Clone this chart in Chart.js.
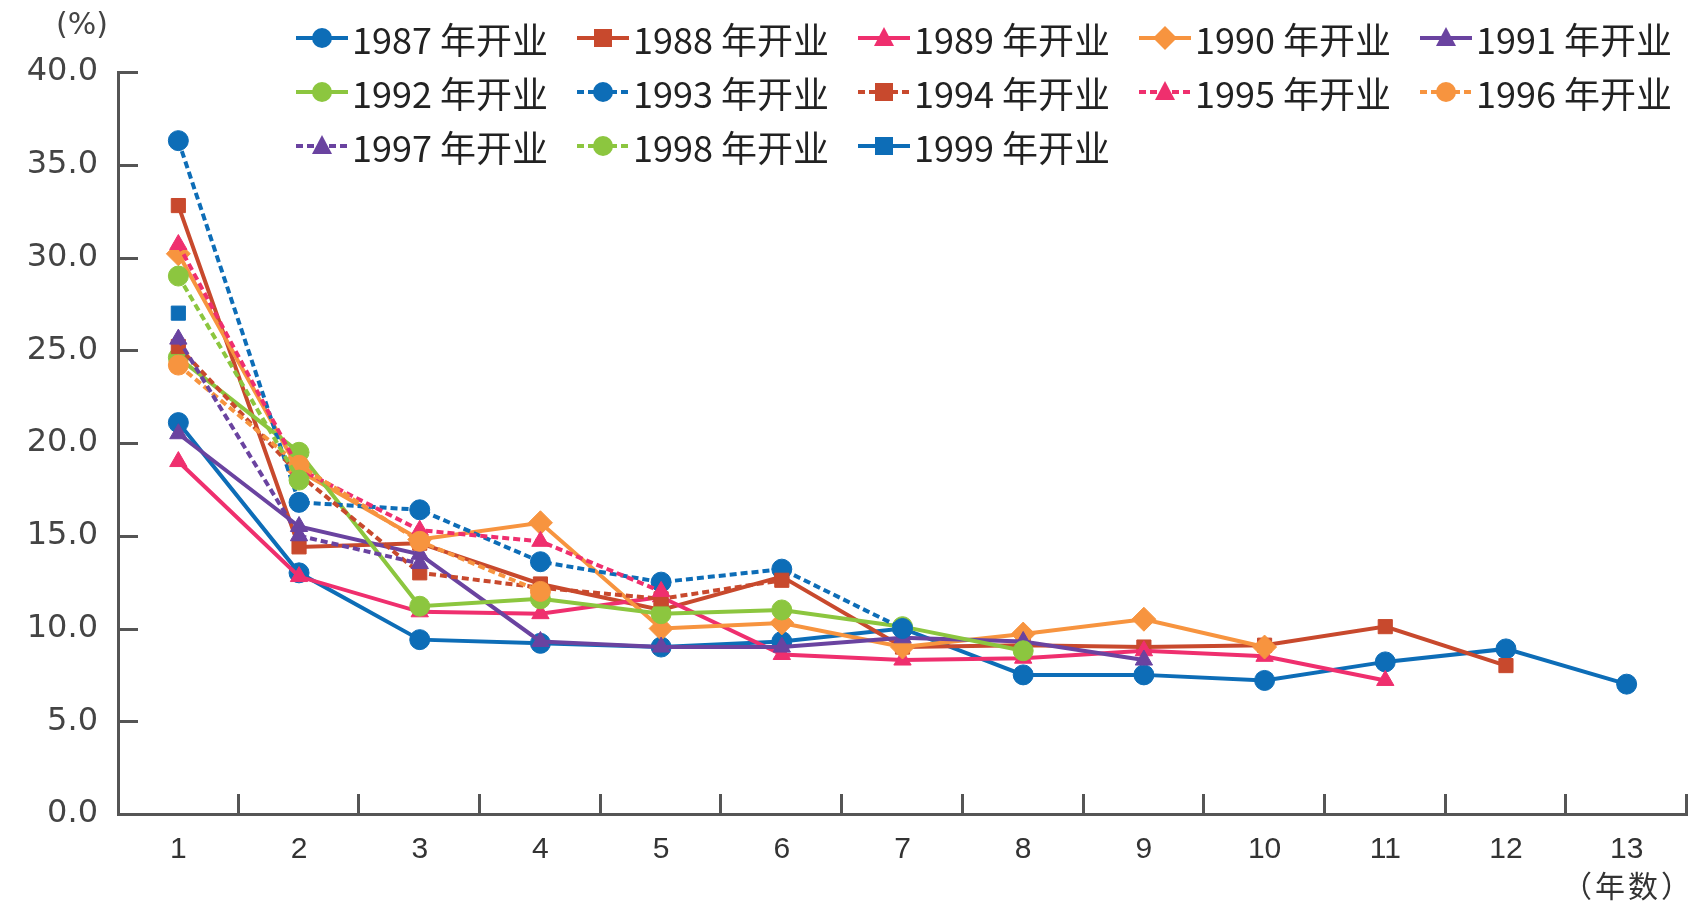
<!DOCTYPE html>
<html>
<head>
<meta charset="utf-8">
<script src="https://cdn.jsdelivr.net/npm/chart.js@4.4.1/dist/chart.umd.min.js"></script>
<style>
  body { margin: 0; background: #fff; }
  #wrap { position: relative; width: 1705px; height: 911px; }
  #legend .item { position: absolute; height: 40px; display: flex; align-items: center;
    font-family: "Noto Sans CJK SC", sans-serif; font-size: 36px; color: #222; white-space: nowrap; }
  #legend svg { margin-right: 4px; }
  .note { position: absolute; color: #444; }
</style>
</head>
<body>
<div id="wrap">
  <canvas id="openChart" width="1705" height="911"></canvas>
  <div id="legend"></div>
  <div class="note" style="left:56px; top:6px; font-family:'DejaVu Sans'; font-size:30px;">(%)</div>
  <div class="note" style="left:1562px; top:862px; font-family:'Noto Sans CJK SC'; font-size:30px; letter-spacing:3px; color:#333;">（年数）</div>
</div>
<script>
// years since opening
var years = ['1', '2', '3', '4', '5', '6', '7', '8', '9', '10', '11', '12', '13'];

// share (%) by opening year
var y1987 = [21.1, 13.0, 9.4, 9.2, 9.0, 9.3, 10.0, 7.5, 7.5, 7.2, 8.2, 8.9, 7.0];
var y1988 = [32.8, 14.4, 14.6, 12.4, 11.0, 12.8, 9.0, 9.1, 9.0, 9.1, 10.1, 8.0];
var y1989 = [19.0, 12.8, 10.9, 10.8, 11.7, 8.6, 8.3, 8.4, 8.8, 8.5, 7.2];
var y1990 = [30.2, 18.5, 14.8, 15.7, 10.0, 10.3, 9.0, 9.7, 10.5, 9.0];
var y1991 = [20.5, 15.5, 14.0, 9.3, 9.0, 9.0, 9.5, 9.3, 8.3];
var y1992 = [24.6, 19.5, 11.2, 11.6, 10.8, 11.0, 10.1, 8.8];
var y1993 = [36.3, 16.8, 16.4, 13.6, 12.5, 13.2, 10.0];
var y1994 = [25.2, 18.3, 13.0, 12.2, 11.6, 12.6];
var y1995 = [30.7, 18.6, 15.3, 14.7, 12.0];
var y1996 = [24.2, 18.8, 14.7, 12.0];
var y1997 = [25.6, 15.0, 13.5];
var y1998 = [29.0, 18.0];
var y1999 = [27.0];

var yTicks = [0, 5, 10, 15, 20, 25, 30, 35, 40];

var blue = '#0d6db7', red = '#c8492d', pink = '#ef2f6e', orange = '#f7943f', purple = '#6a43a0', green = '#8cc63f';

var series = [
    { label: '1987 年开业', data: y1987, color: blue, shape: 'circle', dash: false },
    { label: '1988 年开业', data: y1988, color: red, shape: 'rect', dash: false },
    { label: '1989 年开业', data: y1989, color: pink, shape: 'triangle', dash: false },
    { label: '1990 年开业', data: y1990, color: orange, shape: 'rectRot', dash: false },
    { label: '1991 年开业', data: y1991, color: purple, shape: 'triangle', dash: false },
    { label: '1992 年开业', data: y1992, color: green, shape: 'circle', dash: false },
    { label: '1993 年开业', data: y1993, color: blue, shape: 'circle', dash: true },
    { label: '1994 年开业', data: y1994, color: red, shape: 'rect', dash: true },
    { label: '1995 年开业', data: y1995, color: pink, shape: 'triangle', dash: true },
    { label: '1996 年开业', data: y1996, color: orange, shape: 'circle', dash: true },
    { label: '1997 年开业', data: y1997, color: purple, shape: 'triangle', dash: true },
    { label: '1998 年开业', data: y1998, color: green, shape: 'circle', dash: true },
    { label: '1999 年开业', data: y1999, color: blue, shape: 'rect', dash: false }
];

var datasets = series.map(function (s, i) {
    return {
        label: s.label,
        data: s.data,
        borderColor: s.color,
        backgroundColor: s.color,
        borderWidth: 4,
        borderDash: s.dash ? [7, 4] : [],
        pointStyle: s.shape,
        pointRadius: s.shape === 'rectRot' ? 12 : 10,
        pointBorderWidth: 1,
        tension: 0,
        order: series.length - i
    };
});

// inward tick marks, like the original
var innerTicks = {
    id: 'innerTicks',
    afterDraw: function (chart) {
        var ctx = chart.ctx, area = chart.chartArea;
        var ys = chart.scales.y;
        ctx.save();
        ctx.strokeStyle = '#555';
        ctx.lineWidth = 3;
        ctx.beginPath();
        yTicks.forEach(function (v) {
            var py = Math.round(ys.getPixelForValue(v)) + 0.5;
            ctx.moveTo(area.left, py);
            ctx.lineTo(area.left + 20, py);
        });
        var step = (area.right - area.left) / years.length;
        for (var k = 1; k <= years.length; k++) {
            var px = Math.round(area.left + k * step) - 0.5;
            ctx.moveTo(px, area.bottom);
            ctx.lineTo(px, area.bottom - 20);
        }
        ctx.stroke();
        ctx.restore();
    }
};

var ctx = document.getElementById('openChart');
var openChart = new Chart(ctx, {
    type: 'line',
    data: { labels: years, datasets: datasets },
    options: {
        responsive: false,
        animation: false,
        devicePixelRatio: 1,
        layout: { padding: { top: 72, right: 18, left: 0, bottom: 0 } },
        plugins: { legend: { display: false }, tooltip: { enabled: false } },
        scales: {
            x: {
                offset: true,
                grid: { display: false, drawTicks: false },
                border: { display: true, color: '#555', width: 3 },
                ticks: { color: '#333', padding: 18, font: { family: 'Liberation Sans', size: 30 } },
                afterFit: function (scale) { scale.height = 97; }
            },
            y: {
                min: 0,
                max: 40,
                grid: { display: false, drawTicks: false },
                border: { display: true, color: '#555', width: 3 },
                ticks: {
                    stepSize: 5,
                    padding: 20,
                    color: '#444',
                    font: { family: 'DejaVu Sans', size: 32 },
                    callback: function (v) { return v.toFixed(1); }
                },
                afterFit: function (scale) { scale.width = 118; }
            }
        }
    },
    plugins: [innerTicks]
});

// legend as html, 5 columns
function markerSvg(s) {
    var c = s.color, m = '';
    if (s.shape === 'circle') m = '<circle cx="26" cy="20" r="10" fill="' + c + '"/>';
    else if (s.shape === 'rect') m = '<rect x="17" y="11" width="18" height="18" fill="' + c + '"/>';
    else if (s.shape === 'rectRot') m = '<polygon points="26,8 38,20 26,32 14,20" fill="' + c + '"/>';
    else m = '<polygon points="26,9 36,28 16,28" fill="' + c + '"/>';
    var dash = s.dash ? ' stroke-dasharray="7 4"' : '';
    return '<svg width="52" height="40"><line x1="0" y1="20" x2="52" y2="20" stroke="' + c +
        '" stroke-width="4"' + dash + '/>' + m + '</svg>';
}
var legend = document.getElementById('legend');
series.forEach(function (s, i) {
    var col = i % 5, row = Math.floor(i / 5);
    var div = document.createElement('div');
    div.className = 'item';
    div.style.left = (296 + col * 281) + 'px';
    div.style.top = (18 + row * 54) + 'px';
    div.innerHTML = markerSvg(s) + '<span>' + s.label + '</span>';
    legend.appendChild(div);
});
</script>
</body>
</html>
